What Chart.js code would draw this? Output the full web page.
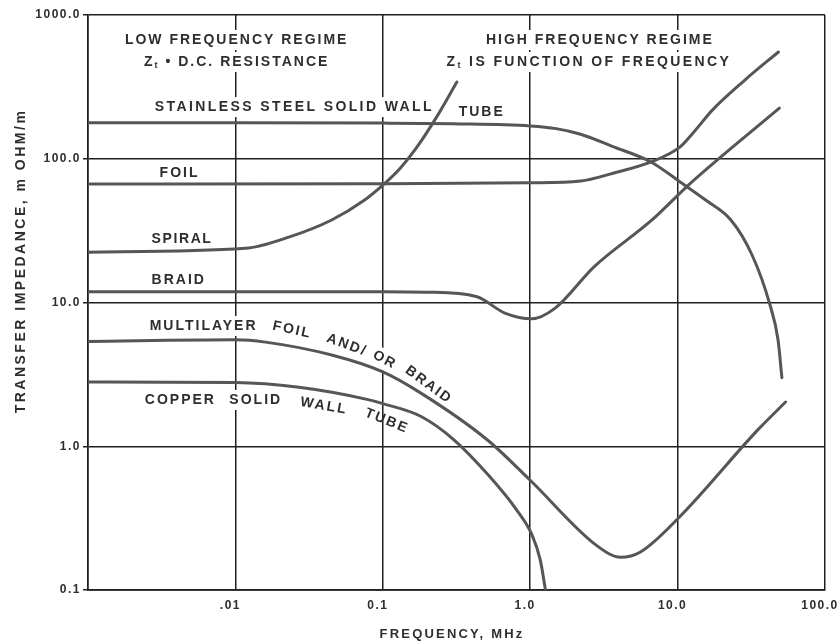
<!DOCTYPE html>
<html>
<head>
<meta charset="utf-8">
<script src="https://cdn.jsdelivr.net/npm/chart.js@4/dist/chart.umd.min.js"></script>
<style>
  html, body { margin: 0; padding: 0; background: #fff; }
  #wrap { width: 840px; height: 643px; }
</style>
</head>
<body>
<div id="wrap"><canvas id="c" width="840" height="643"></canvas></div>
<script>
// ---- Data: frequency (MHz) vs transfer impedance (m OHM/m) ----
const stainlessFreq = [0.001, 0.01, 0.1, 0.3, 1, 1.5, 2.2, 3.6, 6.6, 10.4, 15.5, 23, 32, 42, 48, 51];
const stainlessZt   = [178, 178, 177, 175, 169, 162, 148, 122, 95, 69, 51.6, 37.5, 21.4, 9.9, 5.5, 3.0];

const foilFreq = [0.001, 0.1, 1, 2.2, 3.6, 6.6, 10.4, 13.2, 17.2, 28.6, 48.3];
const foilZt   = [66.7, 67, 68, 70, 79, 95, 121, 158, 218, 353, 553];

const spiralFreq = [0.001, 0.0117, 0.0233, 0.045, 0.074, 0.1, 0.13, 0.167, 0.231, 0.318];
const spiralZt   = [22.4, 23.8, 28.6, 37.5, 51, 65.6, 85, 117, 194, 342];

const braidFreq = [0.001, 0.01, 0.1, 0.2, 0.43, 0.68, 1.02, 1.47, 2.71, 6.7, 12.2, 49];
const braidZt   = [11.9, 11.9, 11.9, 11.8, 11.0, 8.4, 7.7, 9.1, 17.7, 37.5, 67.5, 225];

const multilayerFreq = [0.001, 0.01, 0.016, 0.045, 0.1, 0.178, 0.513, 1.0, 2.86, 4.1, 5.6, 10.3, 35, 54];
const multilayerZt   = [5.36, 5.5, 5.3, 4.31, 3.29, 2.37, 1.105, 0.58, 0.202, 0.169, 0.184, 0.322, 1.30, 2.03];

const copperFreq = [0.001, 0.01, 0.027, 0.078, 0.1, 0.182, 0.305, 0.52, 0.81, 1.03, 1.17, 1.27];
const copperZt   = [2.8, 2.78, 2.57, 2.12, 1.98, 1.61, 1.105, 0.63, 0.36, 0.241, 0.162, 0.1];

const seriesNames = ['STAINLESS STEEL SOLID WALL TUBE', 'FOIL', 'SPIRAL', 'BRAID',
                     'MULTILAYER FOIL AND/ OR BRAID', 'COPPER SOLID WALL TUBE'];

// ---- Tick labels ----
const xTickValues = [0.01, 0.1, 1, 10, 100];
const xTickLabels = ['.01', '0.1', '1.0', '10.0', '100.0'];
const yTickValues = [0.1, 1, 10, 100, 1000];
const yTickLabels = ['0.1', '1.0', '10.0', '100.0', '1000.0'];

const xTitle = 'FREQUENCY, MHz';
const yTitle = 'TRANSFER IMPEDANCE, m OHM/m';

// ---- In-plot text (anchored in data coordinates) ----
const annotationTexts = [
  { parts: [['LOW FREQUENCY REGIME']], f: 0.0102, z: 670, align: 'center', angle: 0 },
  { parts: [['Z'], ['t', 'sub'], [' \u2022 D.C. RESISTANCE']], f: 0.0102, z: 471, align: 'center', angle: 0 },
  { parts: [['HIGH FREQUENCY REGIME']], f: 2.97, z: 670, align: 'center', angle: 0 },
  { parts: [['Z'], ['t', 'sub'], [' IS FUNCTION OF FREQUENCY']], f: 2.5, z: 471, align: 'center', angle: 0, ls: 2.4 },
  { parts: [['STAINLESS STEEL SOLID WALL']], f: 0.00284, z: 229, align: 'left', angle: 0, ls: 2.4 },
  { parts: [['TUBE']], f: 0.327, z: 211, align: 'left', angle: 0 },
  { parts: [['FOIL']], f: 0.00306, z: 79.6, align: 'left', angle: 0 },
  { parts: [['SPIRAL']], f: 0.0027, z: 27.7, align: 'left', angle: 0, ls: 1.6 },
  { parts: [['BRAID']], f: 0.0027, z: 14.4, align: 'left', angle: 0 },
  { parts: [['MULTILAYER']], f: 0.00262, z: 6.86, align: 'left', angle: 0 },
  { parts: [['FOIL']], f: 0.0243, z: 6.44, align: 'center', angle: 12 },
  { parts: [['AND/']], f: 0.0571, z: 5.06, align: 'center', angle: 20 },
  { parts: [['OR']], f: 0.1032, z: 3.98, align: 'center', angle: 28 },
  { parts: [['BRAID']], f: 0.2047, z: 2.67, align: 'center', angle: 36 },
  { parts: [['COPPER']], f: 0.00243, z: 2.10, align: 'left', angle: 0 },
  { parts: [['SOLID']], f: 0.0091, z: 2.10, align: 'left', angle: 0 },
  { parts: [['WALL']], f: 0.0399, z: 1.905, align: 'center', angle: 10 },
  { parts: [['TUBE']], f: 0.1064, z: 1.50, align: 'center', angle: 22, keepGrid: true }
];

// ---- Styles ----
const INK = '#2e2e2e';
const GRID = '#1f1f1f';
const CURVE = '#565656';
const FAMILY = '"Liberation Sans", Arial, Helvetica, sans-serif';
const MAIN_FONT = 'bold 14px ' + FAMILY;
const SUB_FONT = 'bold 9px ' + FAMILY;
const TICK_SPACING = '1.5px';

function measureParts(ctx, parts) {
  let w = 0;
  parts.forEach(p => { ctx.font = p[1] === 'sub' ? SUB_FONT : MAIN_FONT; w += ctx.measureText(p[0]).width; });
  return w;
}

function eachAnnotation(chart, fn) {
  const ctx = chart.ctx, xs = chart.scales.x, ys = chart.scales.y;
  annotationTexts.forEach(a => {
    const px = xs.getPixelForValue(a.f), py = ys.getPixelForValue(a.z);
    ctx.save();
    ctx.letterSpacing = (a.ls || 2) + 'px';
    ctx.translate(px, py);
    ctx.rotate(a.angle * Math.PI / 180);
    const w = measureParts(ctx, a.parts);
    const x0 = a.align === 'center' ? -w / 2 : 0;
    fn(ctx, a, x0, w);
    ctx.restore();
  });
}

const textPlugin = {
  id: 'chartText',
  beforeUpdate(chart) { chart.ctx.letterSpacing = TICK_SPACING; },
  beforeDraw(chart) { chart.ctx.letterSpacing = TICK_SPACING; },
  beforeDatasetsDraw(chart) {
    // clear the grid behind the in-plot labels
    eachAnnotation(chart, (ctx, a, x0, w) => {
      if (a.keepGrid) return;
      ctx.fillStyle = '#ffffff';
      ctx.fillRect(x0 - 4, -10, w + 6, 20);
    });
  },
  afterDatasetsDraw(chart) {
    eachAnnotation(chart, (ctx, a, x0) => {
      ctx.fillStyle = INK;
      ctx.textBaseline = 'middle';
      ctx.textAlign = 'left';
      let cx = x0;
      a.parts.forEach(p => {
        const sub = p[1] === 'sub';
        ctx.font = sub ? SUB_FONT : MAIN_FONT;
        ctx.fillText(p[0], cx, sub ? 4 : 0);
        cx += ctx.measureText(p[0]).width;
      });
    });
    // axis titles
    const ctx = chart.ctx;
    ctx.save();
    ctx.fillStyle = INK;
    ctx.textAlign = 'center';
    ctx.textBaseline = 'middle';
    ctx.font = 'bold 13px ' + FAMILY;
    ctx.letterSpacing = '2.2px';
    ctx.fillText(xTitle, 452, 634);
    ctx.translate(21, 261);
    ctx.rotate(-Math.PI / 2);
    ctx.font = 'bold 14px ' + FAMILY;
    ctx.letterSpacing = '2.5px';
    ctx.fillText(yTitle, 0, 0);
    ctx.restore();
  }
};

const seriesFreq = [stainlessFreq, foilFreq, spiralFreq, braidFreq, multilayerFreq, copperFreq];
const seriesZt = [stainlessZt, foilZt, spiralZt, braidZt, multilayerZt, copperZt];

const datasets = seriesNames.map((name, k) => ({
  label: name,
  data: seriesFreq[k].map((f, i) => ({ x: f, y: seriesZt[k][i] })),
  showLine: true,
  borderColor: CURVE,
  borderWidth: 3,
  pointRadius: 0,
  pointHoverRadius: 0,
  fill: false,
  cubicInterpolationMode: 'monotone',
  borderCapStyle: 'round',
  borderJoinStyle: 'round'
}));

const tickFont = { family: FAMILY, size: 12, weight: 'bold' };

new Chart(document.getElementById('c').getContext('2d'), {
  type: 'scatter',
  data: { datasets },
  options: {
    responsive: false,
    animation: false,
    devicePixelRatio: 1,
    layout: { padding: { left: 0, right: 15, top: 15, bottom: 0 } },
    plugins: { legend: { display: false }, tooltip: { enabled: false } },
    scales: {
      x: {
        type: 'logarithmic',
        min: 0.001, max: 100,
        afterBuildTicks: s => { s.ticks = xTickValues.map(v => ({ value: v })); },
        afterFit: s => { s.height = 53; s.paddingLeft = 0; s.paddingRight = 0; },
        ticks: {
          callback: (v, i) => xTickLabels[i],
          color: INK, font: tickFont, padding: 8, maxRotation: 0, autoSkip: false,
          labelOffset: -5
        },
        grid: { color: GRID, lineWidth: 1.5, drawTicks: false },
        border: { color: GRID, width: 1.8 }
      },
      y: {
        type: 'logarithmic',
        min: 0.1, max: 1000,
        afterBuildTicks: s => { s.ticks = yTickValues.map(v => ({ value: v })); },
        afterFit: s => { s.width = 88; s.paddingTop = 0; s.paddingBottom = 0; },
        ticks: {
          callback: (v, i) => yTickLabels[i],
          color: INK, font: tickFont, padding: 2, autoSkip: false
        },
        grid: { color: GRID, lineWidth: 1.5, drawTicks: true, tickLength: 5, tickColor: GRID },
        border: { color: GRID, width: 1.8 }
      }
    }
  },
  plugins: [textPlugin]
});
</script>
</body>
</html>
